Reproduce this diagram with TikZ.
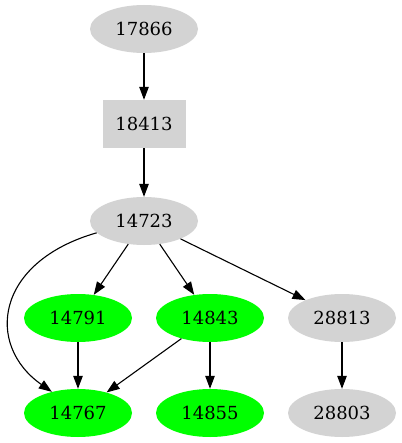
\documentclass[tikz,border=0pt]{standalone}
\usepackage{fontspec}
\setmainfont{DejaVu Serif}
\usetikzlibrary{arrows.meta,shapes.geometric}
\definecolor{lgray}{HTML}{D3D3D3}
\definecolor{lgreen}{HTML}{00FF00}
\begin{document}
\begin{tikzpicture}[x=1pt,y=-1pt,
  gnode/.style={ellipse,fill=lgray,minimum width=108pt,minimum height=48pt,inner sep=0pt,font=\fontsize{18pt}{20pt}\selectfont},
  grnode/.style={gnode,fill=lgreen},
  boxnode/.style={rectangle,fill=lgray,minimum width=83pt,minimum height=48pt,inner sep=0pt,font=\fontsize{18pt}{20pt}\selectfont},
  edge/.style={-{Triangle[length=13pt,width=9.5pt]},line width=1.1pt,draw=black}]
\useasboundingbox (0,0) rectangle (401,443);
\node[gnode] (n17866) at (144,29) {17866};
\node[boxnode] (n18413) at (144,124) {18413};
\node[gnode] (n14723) at (144,221) {14723};
\node[grnode] (n14791) at (78,318) {14791};
\node[grnode] (n14843) at (210,318) {14843};
\node[gnode] (n28813) at (342,318) {28813};
\node[grnode] (n14767) at (78,413) {14767};
\node[grnode] (n14855) at (210,413) {14855};
\node[gnode] (n28803) at (342,413) {28803};
\draw[edge] (n17866) -- (n18413);
\draw[edge] (n18413) -- (n14723);
\draw[edge] (n14723) -- (n14791);
\draw[edge] (n14723) -- (n14843);
\draw[edge] (n14723) -- (n28813);
\draw[edge] (n14791) -- (n14767);
\draw[edge] (n14843) -- (n14767);
\draw[edge] (n14843) -- (n14855);
\draw[edge] (n28813) -- (n28803);
\draw[edge] (n14723.194) .. controls (-5,262) and (-15,345) .. (n14767.141);
\end{tikzpicture}
\end{document}
